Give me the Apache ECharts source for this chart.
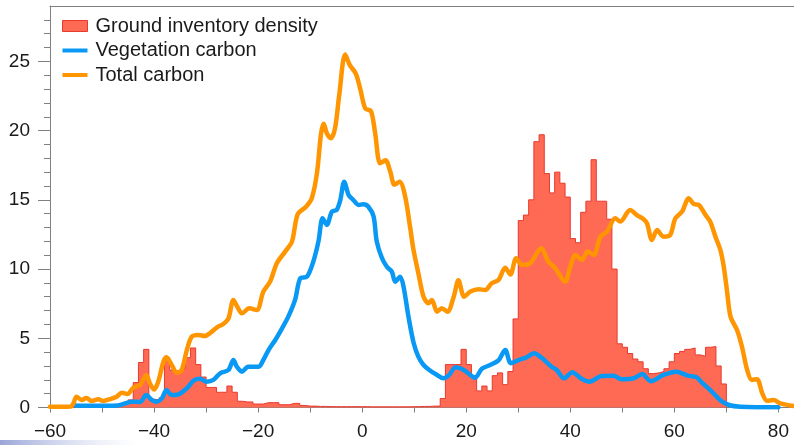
<!DOCTYPE html>
<html>
<head>
<meta charset="utf-8">
<script src="https://cdn.jsdelivr.net/npm/echarts@6/dist/echarts.min.js"></script>
<style>
html,body{margin:0;padding:0;background:#fff;}
#chart{width:794px;height:445px;}
</style>
</head>
<body>
<div id="chart"></div>
<script>
// ---- Data ----
const seriesNames = ['Ground inventory density', 'Vegetation carbon', 'Total carbon'];

// Histogram: 1-unit bins, first bin starts at -56
const firstBinStart = -56;
const inventoryDensity = [
  0.05,0.05,0.05,0.05,0.05,0.08,0.08,0.1,0.15,0.25,     // -56..-47
  0.35,0.55,1.8,3.25,4.2,0.6,0.55,0.7,3.6,2.7,          // -46..-37
  2.6,2.8,3.6,4.3,3.1,2.2,1.45,1.45,1.1,1.1,            // -36..-27
  1.55,1.1,0.45,0.4,0.4,0.25,0.25,0.35,0.35,0.35,       // -26..-17
  0.2,0.2,0.3,0.3,0.15,0.1,0.1,0.08,0.08,0.06,          // -16..-7
  0.06,0.06,0.06,0.06,0.06,0.06,0.06,0.05,0.05,0.05,    // -6..3
  0.05,0.05,0.05,0.05,0.05,0.06,0.06,0.08,0.08,0.1,     // 4..13
  0.1,0.65,3.1,3.1,3.1,4.2,3.1,2.3,1.2,1.55,            // 14..23
  1.2,2.3,2.5,1.65,2.6,6.4,13.5,13.9,15.0,19.2,         // 24..33
  19.7,16.9,15.5,17.0,16.2,15.2,12.2,11.9,14.1,14.9,    // 34..43
  17.9,14.9,14.9,13.6,10.0,4.6,4.35,3.9,3.5,3.3,        // 44..53
  2.8,2.45,2.5,2.6,2.8,3.3,3.9,4.05,4.2,4.3,            // 54..63
  3.8,3.7,4.35,4.4,3.0,1.7                              // 64..69
];

const vegetationCarbon = [
  [-55.2,0.15],[-52,0.12],[-49,0.12],[-47,0.15],[-45.9,0.25],[-44.3,0.42],[-42.7,0.4],
  [-41.5,0.9],[-40.4,0.54],[-39.5,0.42],[-38.5,0.66],[-37.6,1.26],[-36.6,0.9],[-35.3,0.95],
  [-33.7,1.39],[-32.4,1.94],[-31.15,2.07],[-29.9,1.86],[-28.6,1.99],[-27.3,2.47],[-25.7,2.71],
  [-24.75,3.43],[-24.1,2.95],[-23.1,2.59],[-21.9,2.95],[-19.9,2.95],[-19.0,3.43],[-18.0,4.15],
  [-16.7,4.88],[-15.4,5.72],[-14.2,6.56],[-12.9,7.77],[-11.9,9.33],[-10.6,9.45],[-9.4,10.53],
  [-8.4,12.0],[-7.6,13.67],[-6.8,13.19],[-5.8,14.15],[-4.9,14.27],[-4.2,14.99],[-3.46,16.31],
  [-2.6,15.35],[-1.7,14.99],[-0.7,14.63],[0.25,14.68],[1.2,14.5],[2.2,13.79],[2.8,12.0],
  [3.8,10.8],[4.75,10.17],[5.7,9.81],[6.35,9.09],[7.3,9.45],[7.95,8.73],[8.9,6.56],[9.87,4.7],
  [10.8,3.67],[11.8,3.07],[13.1,2.65],[14.4,2.35],[15.6,2.11],[16.6,2.3],[18.0,2.9],[19.5,2.71],
  [20.4,2.47],[21.7,2.15],[23.0,2.8],[24.6,3.07],[26.2,3.4],[27.5,4.15],[28.6,3.19],[30.4,3.48],
  [31.5,3.6],[33.1,3.92],[34.2,3.67],[35.0,3.43],[36.4,2.95],[37.4,2.71],[38.8,2.11],[40.4,2.55],
  [42.0,2.11],[43.7,1.86],[46.0,2.28],[48.3,2.3],[49.8,2.04],[52.2,2.11],[53.8,2.42],[55.5,1.9],
  [57.9,2.35],[60.4,2.59],[62.6,2.3],[64.2,2.2],[65.3,1.8],[67.2,1.15],[68.9,0.5],[70.5,0.18],
  [72.7,0.06],[80,0.02]
];

const totalCarbon = [
  [-60,0.05],[-58,0.05],[-56,0.07],[-55.5,0.3],[-54.9,0.78],[-53.9,0.54],[-53,0.69],[-52,0.47],
  [-50.7,0.59],[-49.75,0.47],[-48.5,0.6],[-47.2,0.78],[-46.2,1.07],[-45.1,0.98],[-44,1.43],
  [-42.7,1.63],[-41.5,2.35],[-40.8,1.75],[-40,1.3],[-39.2,1.86],[-38.2,3.31],[-37.6,3.63],
  [-36.6,3.07],[-35.6,2.51],[-34.7,2.7],[-33.7,4.15],[-32.75,5.12],[-31.5,5.24],[-30.2,5.17],
  [-29.2,5.38],[-27.9,5.79],[-26.7,6.03],[-25.7,6.44],[-24.75,7.77],[-24,7.28],[-23.1,6.8],
  [-21.7,7.17],[-20.25,7.04],[-19,8.37],[-17.7,9.09],[-16.4,10.42],[-14.8,11.26],[-13.5,11.98],
  [-12.4,13.95],[-10.8,14.5],[-9.7,15.1],[-8.7,16.9],[-7.9,19.8],[-7.4,20.5],[-6.8,19.81],
  [-6.0,19.45],[-5.2,20.2],[-4.4,22.6],[-3.27,25.5],[-2.4,24.75],[-1.2,24.1],[-0.3,22.9],
  [0.6,21.6],[1.7,21.4],[2.5,19.8],[3.46,17.64],[4.5,17.85],[5.4,17.04],[6.2,16.1],[7.2,16.3],
  [8.27,15.23],[9.2,13.06],[9.87,11.38],[10.8,9.7],[11.8,8.0],[12.75,7.53],[13.4,7.77],
  [14.4,6.92],[15.3,7.17],[16.4,6.92],[17.6,8.0],[18.5,9.2],[19.6,8.0],[20.8,8.37],[22.4,8.54],
  [23.65,8.49],[24.9,8.97],[26.2,9.21],[27.5,10.1],[28.5,9.6],[29.6,10.78],[30.7,10.3],
  [32.3,10.42],[34.4,11.5],[35.8,10.53],[37.1,10.06],[39.0,9.09],[40.0,10.17],[41.0,11.02],
  [42.25,10.66],[43.3,11.26],[44.5,11.02],[45.8,12.34],[47.05,12.7],[48.65,13.67],[49.6,13.43],
  [51.5,14.27],[52.8,13.9],[54.1,13.6],[54.75,13.3],[55.7,12.1],[56.7,12.82],[57.9,12.34],
  [59.2,12.46],[60.2,13.67],[61.5,14.15],[62.75,15.11],[63.7,14.7],[64.7,14.63],[66,13.9],
  [66.9,13.43],[67.9,12.34],[68.85,11.38],[69.5,10.17],[70.1,8.49],[70.8,6.56],[72.05,5.6],
  [73.0,4.39],[74.0,2.71],[74.9,1.99],[75.9,2.04],[76.9,1.03],[77.8,0.49],[79.1,0.54],
  [80.4,0.3],[83,0.1]
];

const xTicks = [-60,-50,-40,-30,-20,-10,0,10,20,30,40,50,60,70,80];
const xLabels = [-60,-40,-20,0,20,40,60,80];
const yLabels = [0,5,10,15,20,25];
const yMinorTicks = [0,1,2,3,4,5,6,7,8,9,10,11,12,13,14,15,16,17,18,19,20,21,22,23,24,25,26,27,28];

// ---- Build histogram outline (step line from bin edges) ----
const histData = [[firstBinStart, 0]];
inventoryDensity.forEach((v, i) => histData.push([firstBinStart + i, v]));
histData.push([firstBinStart + inventoryDensity.length, 0]);

const FONT = 'Liberation Sans, Arial, Helvetica, sans-serif';
const AXIS_GRAY = '#808080';
const COL_FILL = '#ff6a55', COL_EDGE = '#e8392e', COL_BLUE = '#0a98f5', COL_ORANGE = '#ff9500';

const chart = echarts.init(document.getElementById('chart'), null, {renderer: 'canvas'});
chart.setOption({
  animation: false,
  backgroundColor: '#ffffff',
  grid: {left: 50, top: 6, right: 0, bottom: 37.5, containLabel: false},
  legend: {
    orient: 'vertical', left: 62, top: 16, padding: 0,
    itemWidth: 25, itemHeight: 11, itemGap: 4.5, selectedMode: false,
    textStyle: {fontSize: 20, color: '#1a1a1a', fontFamily: FONT, lineHeight: 20, padding: [0,0,0,3]},
    data: [
      {name: seriesNames[0], icon: 'rect', itemStyle: {color: COL_FILL, borderColor: COL_EDGE, borderWidth: 1}},
      {name: seriesNames[1], icon: 'path://M0,0H25V4H0Z', itemStyle: {color: COL_BLUE, borderWidth: 0}},
      {name: seriesNames[2], icon: 'path://M0,0H25V4H0Z', itemStyle: {color: COL_ORANGE, borderWidth: 0}}
    ]
  },
  xAxis: [{
    type: 'value', min: -60, max: 83, interval: 10, position: 'bottom',
    axisLine: {show: true, onZero: false, lineStyle: {color: AXIS_GRAY, width: 1}},
    axisTick: {show: true, length: 5, inside: false, customValues: xTicks, lineStyle: {color: AXIS_GRAY}},
    axisLabel: {show: true, customValues: xLabels, margin: 15, fontSize: 19, color: '#1a1a1a', fontFamily: FONT,
      formatter: v => String(v).replace('-', '\u2212')},
    splitLine: {show: false}
  }, {
    type: 'value', min: -60, max: 83, position: 'top',
    axisLine: {show: true, onZero: false, lineStyle: {color: AXIS_GRAY, width: 1}},
    axisTick: {show: false}, axisLabel: {show: false}, splitLine: {show: false}
  }],
  yAxis: [{
    type: 'value', min: 0, max: 29, interval: 1, position: 'left',
    axisLine: {show: true, onZero: false, lineStyle: {color: AXIS_GRAY, width: 1}},
    axisTick: {show: true, length: 6, customValues: yMinorTicks, lineStyle: {color: AXIS_GRAY}},
    axisLabel: {show: true, customValues: yLabels, margin: 20, fontSize: 19, color: '#1a1a1a', fontFamily: FONT},
    splitLine: {show: false}
  }, {
    type: 'value', min: 0, max: 29, interval: 5, position: 'left', offset: 0,
    axisLine: {show: false, onZero: false},
    axisTick: {show: true, length: 12, customValues: yLabels, lineStyle: {color: AXIS_GRAY}},
    axisLabel: {show: false}, splitLine: {show: false}
  }],
  graphic: [{
    type: 'rect', silent: true, z: 0,
    shape: {x: 0, y: 440, width: 140, height: 5},
    style: {fill: new echarts.graphic.LinearGradient(0, 0, 1, 0, [
      {offset: 0, color: 'rgba(120,135,200,0.75)'},
      {offset: 1, color: 'rgba(200,210,240,0)'}
    ])}
  }],
  series: [{
    name: seriesNames[0], type: 'line', step: 'end', data: histData,
    xAxisIndex: 0, yAxisIndex: 0, showSymbol: false, symbol: 'none',
    color: COL_EDGE,
    lineStyle: {color: COL_EDGE, width: 1},
    areaStyle: {color: COL_FILL, opacity: 1, origin: 'start'},
    z: 2
  }, {
    name: seriesNames[1], type: 'line', data: vegetationCarbon,
    xAxisIndex: 0, yAxisIndex: 0, showSymbol: false, symbol: 'none', smooth: 0.3,
    color: COL_BLUE,
    lineStyle: {color: COL_BLUE, width: 4.5, join: 'round', cap: 'round'},
    z: 3
  }, {
    name: seriesNames[2], type: 'line', data: totalCarbon,
    xAxisIndex: 0, yAxisIndex: 0, showSymbol: false, symbol: 'none', smooth: 0.3,
    color: COL_ORANGE,
    lineStyle: {color: COL_ORANGE, width: 4.5, join: 'round', cap: 'round'},
    z: 4
  }]
});
</script>
</body>
</html>
